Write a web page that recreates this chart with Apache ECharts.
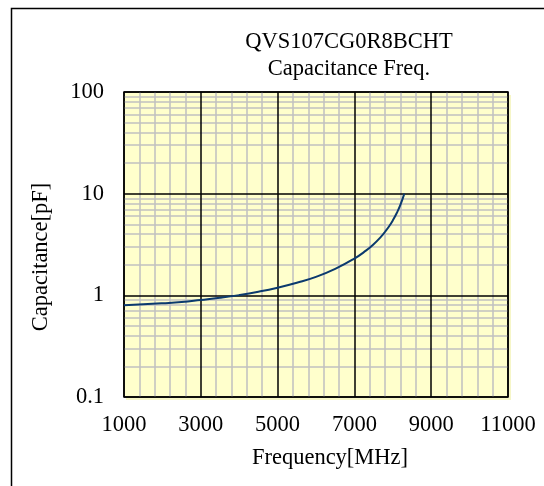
<!DOCTYPE html>
<html>
<head>
<meta charset="utf-8">
<script src="https://cdn.jsdelivr.net/npm/echarts@6/dist/echarts.min.js"></script>
<style>html,body{margin:0;padding:0;background:#fff}#c{width:544px;height:486px}</style>
</head>
<body>
<div id="c"></div>
<script>
// Data
const freq = [1000, 1500, 2000, 2500, 3000, 3500, 4000, 4500, 5000, 5500, 6000, 6500, 7000, 7300, 7500, 7700, 7800, 7900, 8000, 8100, 8200, 8300];
const capacitance = [0.80, 0.815, 0.835, 0.86, 0.90, 0.945, 1.005, 1.085, 1.19, 1.33, 1.52, 1.82, 2.30, 2.75, 3.18, 3.80, 4.22, 4.75, 5.45, 6.42, 7.80, 10.0];
const xTicks = [1000, 3000, 5000, 7000, 9000, 11000];
const yMajor = [0.1, 1, 10, 100];
const yMinor = [0.2,0.3,0.4,0.5,0.6,0.7,0.8,0.9, 2,3,4,5,6,7,8,9, 20,30,40,50,60,70,80,90];
const titleLines = ['QVS107CG0R8BCHT', 'Capacitance Freq.'];

const FONT = 'Liberation Serif';
const FS = 22.5;
const chart = echarts.init(document.getElementById('c'));
const points = freq.map((f, i) => [f, capacitance[i]]);

chart.setOption({
  animation: false,
  backgroundColor: '#ffffff',
  title: {
    text: titleLines.join('\n'),
    left: 344, top: 24, textAlign: 'center',
    textStyle: {fontFamily: FONT, fontSize: FS, fontWeight: 'normal', color: '#000', lineHeight: 27}
  },
  graphic: [
    {type: 'rect', z: -10, shape: {x: 126, y: 95, width: 385, height: 305},
     style: {fill: '#f6f6c8'}, silent: true},
    {type: 'rect', shape: {x: 11.5, y: 8.5, width: 560, height: 520},
     style: {fill: 'none', stroke: '#000', lineWidth: 1.5}, silent: true}
  ],
  grid: {
    left: 124, right: 36, top: 92, bottom: 89,
    show: true, backgroundColor: '#ffffcc', borderColor: '#000', borderWidth: 1.5
  },
  xAxis: {
    type: 'value', min: 1000, max: 11000, interval: 2000,
    name: 'Frequency[MHz]', nameLocation: 'middle', nameGap: 50,
    nameTextStyle: {fontFamily: FONT, fontSize: FS, color: '#000', padding: [0, 0, 0, 28]},
    axisLine: {show: false}, axisTick: {show: false},
    axisLabel: {fontFamily: FONT, fontSize: FS, color: '#000', margin: 17, formatter: v => String(v)},
    splitLine: {show: false},
    minorTick: {show: false, splitNumber: 5},
    minorSplitLine: {show: true, lineStyle: {color: '#c0c0c0', width: 1.5}}
  },
  yAxis: {
    type: 'log', logBase: 10, min: 0.1, max: 100,
    name: 'Capacitance[pF]', nameLocation: 'middle', nameGap: 71, nameRotate: 90,
    nameTextStyle: {fontFamily: FONT, fontSize: FS, color: '#000', padding: [0, 25, 0, 0]},
    axisLine: {show: false}, axisTick: {show: false},
    axisLabel: {fontFamily: FONT, fontSize: FS, color: '#000', margin: 20,
      formatter: v => String(Number(v.toPrecision(3)))},
    splitLine: {show: false}
  },
  series: [
    {
      type: 'line', data: [], z: 1, silent: true,
      markLine: {z: 1, silent: true, symbol: 'none', label: {show: false},
        lineStyle: {color: '#c0c0c0', width: 1.5, type: 'solid'},
        data: yMinor.map(v => ({yAxis: v}))}
    },
    {
      type: 'line', data: [], z: 2, silent: true,
      markLine: {z: 2, silent: true, symbol: 'none', label: {show: false},
        lineStyle: {color: '#000', width: 1.5, type: 'solid'},
        data: yMajor.map(v => ({yAxis: v})).concat(xTicks.map(v => ({xAxis: v})))}
    },
    {
      type: 'line', data: points, z: 10, smooth: 0.5, showSymbol: false,
      lineStyle: {color: '#0b3a6e', width: 2}
    }
  ]
});
</script>
</body>
</html>
